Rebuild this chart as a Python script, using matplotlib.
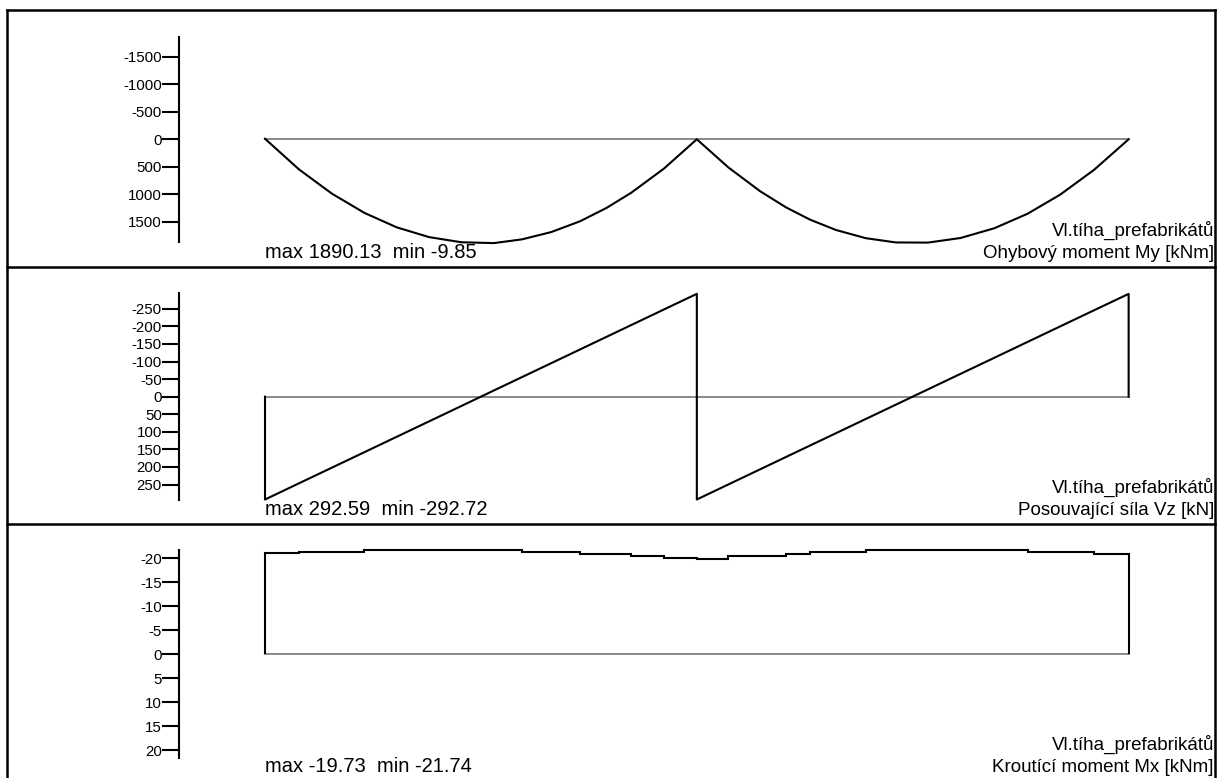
import matplotlib
matplotlib.use("Agg")
import matplotlib.pyplot as plt
from matplotlib.lines import Line2D

plt.rcParams['font.family'] = ['Liberation Sans', 'DejaVu Sans']
plt.rcParams['axes.unicode_minus'] = False

# node positions along the two-span beam [m]
span1_x = [0.00, 0.94, 1.86, 2.76, 3.66, 4.56, 5.46, 6.36, 7.14, 7.95, 8.75, 9.49, 10.18, 11.08, 12.00]
span2_x = [12.00, 12.88, 13.76, 14.48, 15.15, 15.87, 16.70, 17.53, 18.42, 19.33, 20.27, 21.19, 22.10, 23.04, 24.00]

# bending moment My [kNm] at the nodes
moment_1 = [-9.85, 546, 990, 1339, 1603, 1781, 1875, 1890.13, 1822, 1690, 1494, 1250, 972, 537, 0]
moment_2 = [0, 514, 946, 1240, 1464, 1652, 1801, 1878, 1881, 1797, 1619, 1356, 1007, 556, 0]

# shear force Vz [kN] at the nodes
shear_1 = [292.59, 246.7, 201.9, 158.0, 114.1, 70.2, 26.3, -17.7, -55.7, -95.2, -134.2, -170.3, -204.0, -247.9, -292.72]
shear_2 = [292.50, 249.6, 206.6, 171.5, 138.8, 103.7, 63.2, 22.7, -20.7, -65.1, -110.9, -155.8, -200.2, -246.0, -292.60]

# torsional moment Mx [kNm], constant on each element
torsion_1 = [-20.98, -21.32, -21.32, -21.74, -21.74, -21.74, -21.74, -21.74, -21.25, -21.25, -20.84, -20.84, -20.35, -19.94]
torsion_2 = [-19.73, -20.49, -20.49, -20.91, -21.32, -21.32, -21.74, -21.74, -21.74, -21.74, -21.74, -21.32, -21.32, -20.91]

load_case = "Vl.tíha_prefabrikátů"
titles = ["Ohybový moment My [kNm]", "Posouvající síla Vz [kN]", "Kroutící moment Mx [kNm]"]
summaries = ["max 1890.13  min -9.85", "max 292.59  min -292.72", "max -19.73  min -21.74"]
my_ticks = [-1500, -1000, -500, 0, 500, 1000, 1500]
vz_ticks = [-250, -200, -150, -100, -50, 0, 50, 100, 150, 200, 250]
mx_ticks = [-20, -15, -10, -5, 0, 5, 10, 15, 20]

W, H = 1225, 778
fig = plt.figure(figsize=(W / 100, H / 100), dpi=100)


def fx(px):
    return px / W


def fy(py):
    return 1 - py / H


# panel layout in pixels: panel top, axis top, axis bottom, y-limits (top, bottom)
panels = [
    (10.0, 37, 242, -1862, 1870),
    (266.7, 293, 500, -295.1, 294.0),
    (523.5, 550, 757.7, -21.70, 21.51),
]
ax_left, ax_right = 179, 1215
xlim = (-2.39, 26.40)
beam_len = span2_x[-1]

axes = []
for top, a_top, a_bot, y_top, y_bot in panels:
    ax = fig.add_axes([fx(ax_left), fy(a_bot), fx(ax_right - ax_left), (a_bot - a_top) / H])
    ax.set_xlim(*xlim)
    ax.set_ylim(y_bot, y_top)
    ax.patch.set_visible(False)
    for s in ['top', 'right', 'bottom']:
        ax.spines[s].set_visible(False)
    ax.spines['left'].set_linewidth(1.5)
    ax.set_xticks([])
    ax.tick_params(axis='y', direction='out', length=12, width=1.5, pad=0.3,
                   labelsize=10.8, colors='black')
    # zero reference line
    ax.plot([0, beam_len], [0, 0], color='#808080', lw=1.3, zorder=1)
    axes.append(ax)

ax1, ax2, ax3 = axes

ax1.set_yticks(my_ticks)
ax1.set_yticklabels([str(t) for t in my_ticks])
ax1.plot(span1_x + span2_x[1:], moment_1 + moment_2[1:], color='black', lw=1.5,
         clip_on=False, zorder=3)

ax2.set_yticks(vz_ticks)
ax2.set_yticklabels([str(t) for t in vz_ticks])
ax2.plot([0] + span1_x + span2_x + [beam_len], [0] + shear_1 + shear_2 + [0],
         color='black', lw=1.5, clip_on=False, zorder=3)

ax3.set_yticks(mx_ticks)
ax3.set_yticklabels([str(t) for t in mx_ticks])
ax3.stairs(torsion_1 + torsion_2, span1_x + span2_x[1:], baseline=0,
           color='black', lw=1.5, clip_on=False, zorder=3)

# text under each diagram
for (top, *_), title, summary in zip(panels, titles, summaries):
    fig.text(fx(265), fy(top + 248), summary, fontsize=14.5, ha='left', va='baseline')
    fig.text(fx(1214), fy(top + 226), load_case, fontsize=13.5, ha='right', va='baseline')
    fig.text(fx(1214), fy(top + 248), title, fontsize=13.5, ha='right', va='baseline')

# outer frame and panel separators
frame_kw = dict(color='black', lw=1.8, transform=fig.transFigure)
fig.add_artist(Line2D([fx(7), fx(7)], [fy(10), fy(790)], **frame_kw))
fig.add_artist(Line2D([fx(1215), fx(1215)], [fy(10), fy(790)], **frame_kw))
for top, *_ in panels:
    fig.add_artist(Line2D([fx(7), fx(1215)], [fy(top), fy(top)], **frame_kw))

fig.savefig('out.png', dpi=100)
